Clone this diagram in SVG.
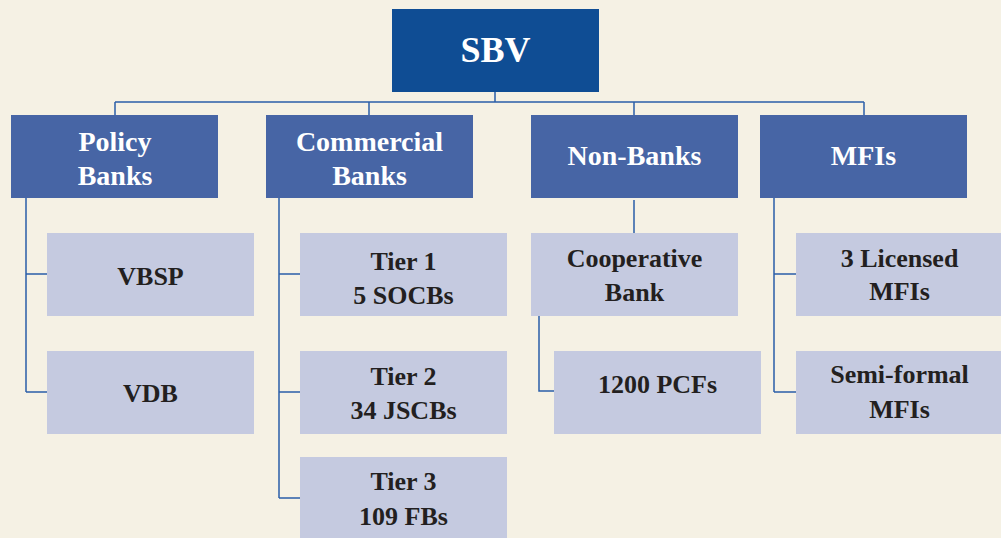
<svg xmlns="http://www.w3.org/2000/svg" width="1001" height="538" viewBox="0 0 1001 538">
<style>
.bg{fill:#f5f1e4}
.top{fill:#0f4d94}
.hdr{fill:#4765a5}
.sub{fill:#c5cae0}
.ht{font-family:"Liberation Serif",serif;font-weight:bold;font-size:28px;fill:#ffffff;text-anchor:middle}
.tt{font-family:"Liberation Serif",serif;font-weight:bold;font-size:36px;fill:#ffffff;text-anchor:middle}
.st{font-family:"Liberation Serif",serif;font-weight:bold;font-size:26px;fill:#231f20;text-anchor:middle}
.ln{fill:none;stroke:#2a5ea8;stroke-width:1.5}
</style>
<rect class="bg" x="0" y="0" width="1001" height="538"/>
<g id="connectors">
<path class="ln" d="M495,92 V102 M115,102 H864 M115,102 V115 M369,102 V115 M634,102 V115 M864,102 V115"/>
<path class="ln" d="M26,198 V392 M26,274 H47 M26,392 H47"/>
<path class="ln" d="M279,198 V498 M279,274 H300 M279,392 H300 M279,498 H300"/>
<path class="ln" d="M634,200 V233 M539,316 V391 H554"/>
<path class="ln" d="M774,198 V392 M774,274 H796 M774,392 H796"/>
</g>
<g id="sbv"><rect class="top" x="392" y="9" width="207" height="83"/><text class="tt" x="495.5" y="62">SBV</text></g>
<g id="policy"><rect class="hdr" x="11" y="115" width="207" height="83"/><text class="ht" x="115" y="151">Policy</text><text class="ht" x="115" y="185">Banks</text></g>
<g id="commercial"><rect class="hdr" x="266" y="115" width="207" height="83"/><text class="ht" x="369.5" y="151">Commercial</text><text class="ht" x="369.5" y="185">Banks</text></g>
<g id="nonbanks"><rect class="hdr" x="531" y="115" width="207" height="83"/><text class="ht" x="634.5" y="165">Non-Banks</text></g>
<g id="mfis"><rect class="hdr" x="760" y="115" width="207" height="83"/><text class="ht" x="863.5" y="165">MFIs</text></g>
<g id="vbsp"><rect class="sub" x="47" y="233" width="207" height="83"/><text class="st" x="150.5" y="285">VBSP</text></g>
<g id="vdb"><rect class="sub" x="47" y="351" width="207" height="83"/><text class="st" x="150.5" y="402">VDB</text></g>
<g id="tier1"><rect class="sub" x="300" y="233" width="207" height="83"/><text class="st" x="403.5" y="270">Tier 1</text><text class="st" x="403.5" y="304">5 SOCBs</text></g>
<g id="tier2"><rect class="sub" x="300" y="351" width="207" height="83"/><text class="st" x="403.5" y="385">Tier 2</text><text class="st" x="403.5" y="419">34 JSCBs</text></g>
<g id="tier3"><rect class="sub" x="300" y="457" width="207" height="83"/><text class="st" x="403.5" y="490">Tier 3</text><text class="st" x="403.5" y="525">109 FBs</text></g>
<g id="coop"><rect class="sub" x="531" y="233" width="207" height="83"/><text class="st" x="634.5" y="267">Cooperative</text><text class="st" x="634.5" y="301">Bank</text></g>
<g id="pcfs"><rect class="sub" x="554" y="351" width="207" height="83"/><text class="st" x="657.5" y="393">1200 PCFs</text></g>
<g id="licensed"><rect class="sub" x="796" y="233" width="207" height="83"/><text class="st" x="899.5" y="267">3 Licensed</text><text class="st" x="899.5" y="300">MFIs</text></g>
<g id="semiformal"><rect class="sub" x="796" y="351" width="207" height="83"/><text class="st" x="899.5" y="383">Semi-formal</text><text class="st" x="899.5" y="418">MFIs</text></g>
</svg>
